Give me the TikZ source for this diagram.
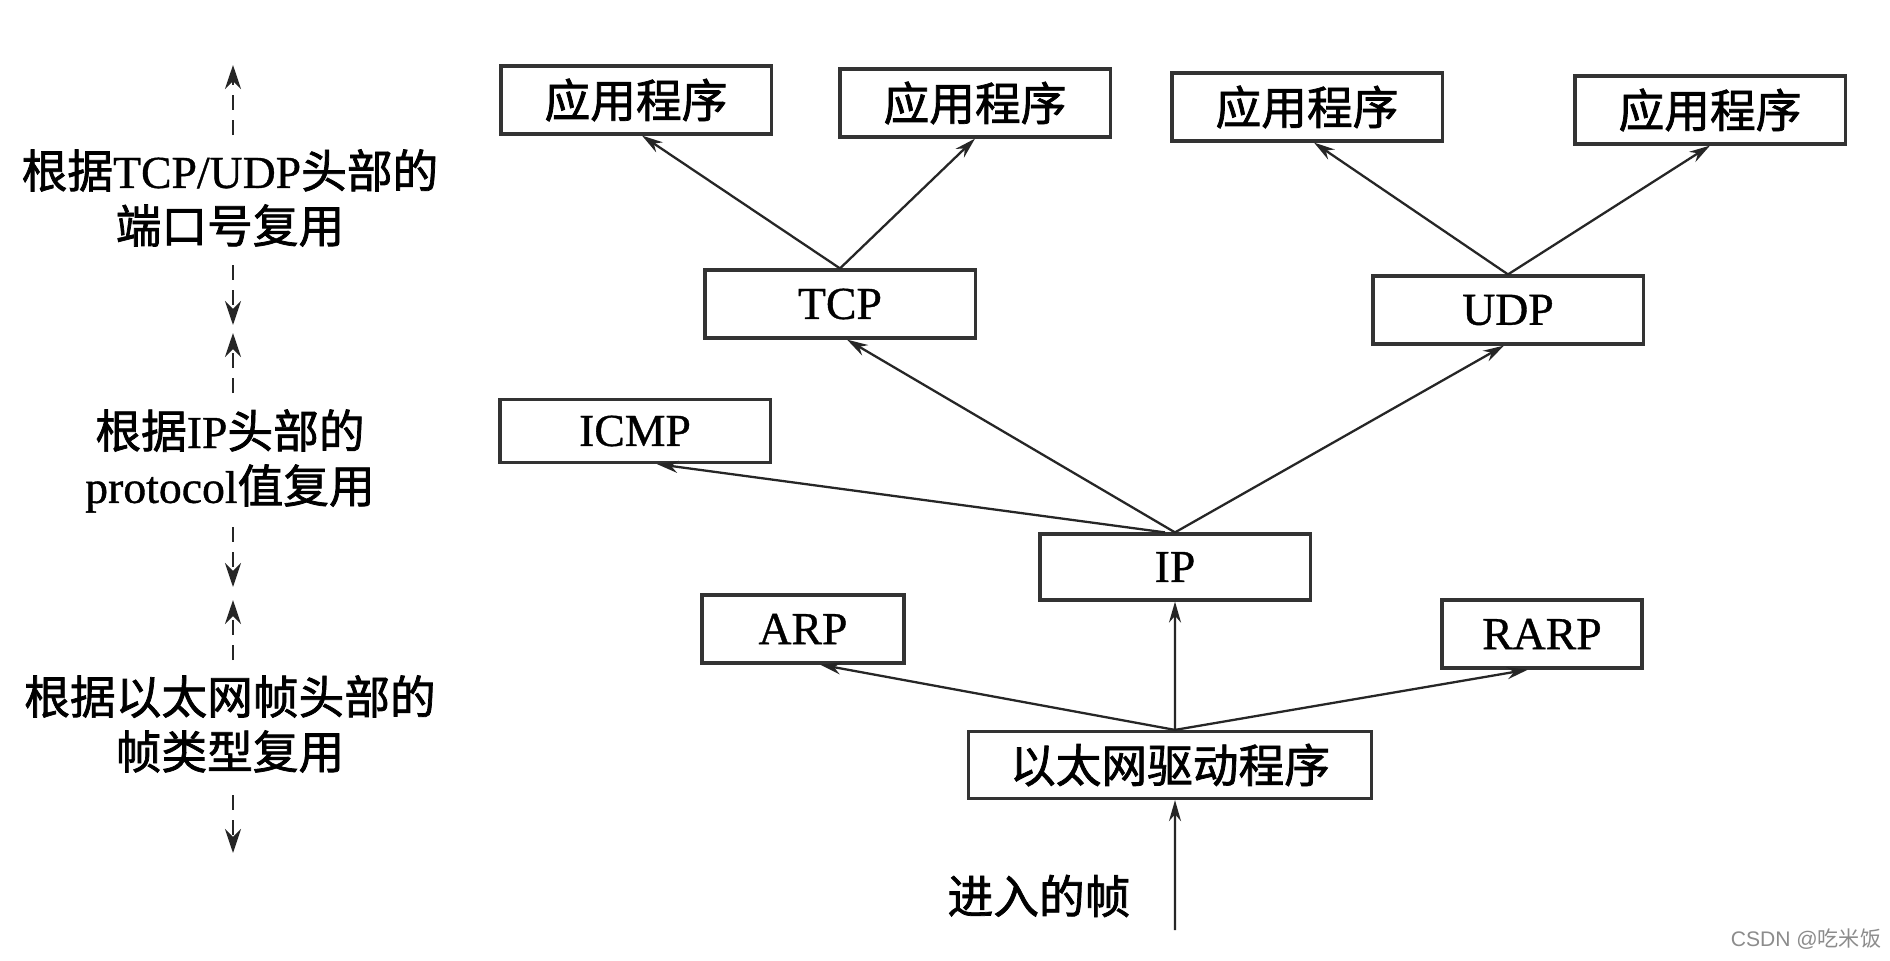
\documentclass[tikz,border=0pt]{standalone}
\usepackage{fontspec}
\setmainfont{Liberation Serif}[FakeBold=0.8]
\newfontfamily\cjk{Noto Sans CJK SC}[FakeBold=1.6]
\newfontfamily\cjklight{Noto Sans CJK SC}
\newfontfamily\wmfont{Liberation Sans}
\usetikzlibrary{arrows.meta}
\begin{document}
\begin{tikzpicture}[x=0.01cm,y=-0.01cm,
  box/.style={draw=black!80, line width=0.9pt, fill=white, inner sep=0pt,
              minimum height=0.68cm, font=\fontsize{13}{15.6}\selectfont},
  wbox/.style={box, minimum width=2.70cm},
  sbox/.style={box, minimum width=2.02cm},
  arr/.style={-{Stealth[length=0.21cm,width=0.12cm]}, line width=0.65pt, draw=black!85},
  darr/.style={-{Stealth[length=0.24cm,width=0.16cm]}, line width=0.75pt, draw=black!85,
               dash pattern=on 0.15cm off 0.1cm},
  lbl/.style={align=center, inner sep=0pt, font=\fontsize{13}{15.6}\selectfont},
  wm/.style={inner sep=0pt, text=black!45, font=\wmfont\fontsize{6}{7}\selectfont}]
\useasboundingbox (0,0) rectangle (1890,960);
\fill[white] (0,0) rectangle (1890,960);

% boxes
\node[wbox] (app1) at (636,100) {\cjk 应用程序};
\node[wbox] (app2) at (975,103) {\cjk 应用程序};
\node[wbox] (app3) at (1307,107) {\cjk 应用程序};
\node[wbox] (app4) at (1710,110) {\cjk 应用程序};
\node[wbox] (tcp) at (840,304) {TCP};
\node[wbox] (udp) at (1508,310) {UDP};
\node[wbox, minimum height=0.63cm] (icmp) at (635,431) {ICMP};
\node[wbox, minimum height=0.66cm] (ip) at (1175,567) {IP};
\node[sbox] (arp) at (803,629) {ARP};
\node[sbox, minimum width=2.00cm] (rarp) at (1542,634) {RARP};
\node[box, minimum width=4.03cm, minimum height=0.67cm] (eth) at (1170,765) {\cjk 以太网驱动程序};

% input label
\node[lbl] (in) at (1039,896) {\cjk 进入的帧};
\coordinate (instart) at (1175,930);

% connectors
\draw[arr] (tcp.north) -- ([xshift=0.06cm]app1.south);
\draw[arr] (tcp.north) -- (app2.south);
\draw[arr] (udp.north) -- ([xshift=0.07cm]app3.south);
\draw[arr] (udp.north) -- (app4.south);
\draw[arr] (ip.north) -- ([xshift=0.07cm]tcp.south);
\draw[arr] (ip.north) -- ([xshift=-0.04cm]udp.south);
\draw[arr] ([xshift=-0.1cm]ip.north) -- ([xshift=0.22cm]icmp.south);
\draw[arr] ([xshift=0.05cm]eth.north) -- ([xshift=0.17cm]arp.south);
\draw[arr] ([xshift=0.05cm]eth.north) -- ([xshift=-0.14cm]rarp.south);
\draw[arr] ([xshift=0.05cm]eth.north) -- (ip.south);
\draw[arr] (instart) -- ([xshift=0.05cm]eth.south);

% left labels
\node[lbl] (l1) at (230,198) {{\cjk 根据}TCP/UDP{\cjk 头部的}\\{\cjk 端口号复用}};
\node[lbl] (l2) at (230,461) {{\cjk 根据}IP{\cjk 头部的}\\protocol{\cjk 值复用}};
\node[lbl] (l3) at (230,724) {{\cjk 根据以太网帧头部的}\\{\cjk 帧类型复用}};

% dashed range arrows
\coordinate (d1s) at (233,135); \coordinate (d1e) at (233,65);
\coordinate (d2s) at (233,265); \coordinate (d2e) at (233,325);
\coordinate (d3s) at (233,393); \coordinate (d3e) at (233,333);
\coordinate (d4s) at (233,527); \coordinate (d4e) at (233,587);
\coordinate (d5s) at (233,660); \coordinate (d5e) at (233,600);
\coordinate (d6s) at (233,795); \coordinate (d6e) at (233,853);
\draw[darr] (d1s) -- (d1e);
\draw[darr] (d2s) -- (d2e);
\draw[darr] (d3s) -- (d3e);
\draw[darr] (d4s) -- (d4e);
\draw[darr] (d5s) -- (d5e);
\draw[darr] (d6s) -- (d6e);

% watermark
\node[wm] (mark) at (1806,939) {CSDN @{\cjklight 吃米饭}};
\end{tikzpicture}
\end{document}
